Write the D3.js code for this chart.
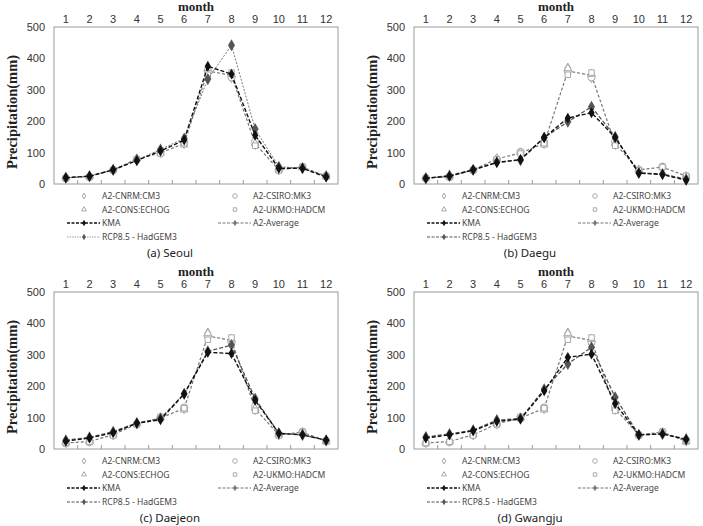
<!DOCTYPE html>
<html>
<head>
<meta charset="utf-8">
<script src="https://cdn.jsdelivr.net/npm/d3@7/dist/d3.min.js"></script>
<style>
  body { margin: 0; background: #fff; }
  .tick text { font-family: "Liberation Sans", Arial, sans-serif; font-size: 11px; fill: #333; }
  .leg { font-family: "Noto Sans", sans-serif; font-size: 8.5px; fill: #444; }
  .cap { font-family: "Noto Sans", sans-serif; font-size: 11.5px; fill: #222; }
  .ttl { font-family: "Liberation Serif", "DejaVu Serif", serif; font-weight: bold; fill: #222; }
</style>
</head>
<body>
<div id="chart"></div>
<script>
// months and axis ticks
const months = [1, 2, 3, 4, 5, 6, 7, 8, 9, 10, 11, 12];
const yTicks = [0, 100, 200, 300, 400, 500];

// A2 scenario models (mm)
const cnrm  = [20, 24, 44, 80, 98, 128, 370, 338, 125, 44, 52, 24];
const csiro = [18, 22, 45, 78, 102, 132, 360, 340, 135, 45, 55, 25];
const echog = [20, 25, 46, 82, 100, 125, 368, 350, 130, 46, 53, 23];
const ukmo  = [19, 23, 43, 79, 97, 130, 348, 355, 122, 43, 54, 26];
const a2avg = [19, 24, 45, 80, 99, 129, 360, 346, 128, 45, 54, 25];

// observed (KMA) and RCP8.5 per station
const seoulKMA   = [20, 25, 45, 75, 105, 140, 375, 350, 155, 50, 50, 22];
const seoulRCP   = [20, 25, 45, 76, 110, 145, 334, 442, 175, 55, 50, 25];
const daeguKMA   = [18, 25, 45, 68, 78, 148, 210, 227, 148, 35, 30, 12];
const daeguRCP   = [18, 27, 45, 70, 76, 148, 198, 246, 150, 35, 32, 15];
const daejeonKMA = [25, 35, 52, 82, 93, 175, 308, 304, 155, 50, 45, 28];
const daejeonRCP = [28, 37, 55, 83, 97, 176, 311, 331, 160, 50, 45, 28];
const gwangjuKMA = [35, 45, 58, 88, 95, 185, 292, 302, 145, 45, 48, 30];
const gwangjuRCP = [38, 48, 60, 92, 97, 190, 271, 324, 165, 45, 48, 32];

const captions = ["(a) Seoul", "(b) Daegu", "(c) Daejeon", "(d) Gwangju"];

const svg = d3.select("#chart").append("svg")
    .attr("width", 703)
    .attr("height", 526);

const models = [
    { name: "A2-CNRM:CM3", data: cnrm, sym: d3.symbolDiamond, size: 26 },
    { name: "A2-CSIRO:MK3", data: csiro, sym: d3.symbolCircle, size: 42 },
    { name: "A2-CONS:ECHOG", data: echog, sym: d3.symbolTriangle, size: 26 },
    { name: "A2-UKMO:HADCM", data: ukmo, sym: d3.symbolSquare, size: 30 }
];

function drawPanel(ox, oy, caption, kma, rcp, rcpDotted) {
    let g = svg.append("g").attr("transform", "translate(" + ox + "," + oy + ")");

    let x = d3.scaleBand().domain(months).range([54, 338]);
    let y = d3.scaleLinear().domain([0, 500]).range([184, 27]);
    let cx = d => x(d) + x.bandwidth() / 2;

    // frame
    g.append("rect")
        .attr("x", 54).attr("y", 27)
        .attr("width", 284).attr("height", 157)
        .attr("fill", "none")
        .attr("stroke", "#9a9a9a");

    // small ticks on the bottom edge between months
    g.selectAll(".btick")
        .data(months.slice(1))
        .enter().append("line")
        .attr("x1", d => x(d)).attr("x2", d => x(d))
        .attr("y1", 184).attr("y2", 180)
        .attr("stroke", "#9a9a9a");

    // month axis on top
    let top = g.append("g")
        .attr("transform", "translate(0,27)")
        .call(d3.axisTop(x).tickSize(0).tickPadding(4));
    top.select(".domain").remove();

    let left = g.append("g")
        .attr("transform", "translate(54,0)")
        .call(d3.axisLeft(y).tickValues(yTicks).tickSize(0).tickPadding(9));
    left.select(".domain").remove();

    g.append("text").attr("class", "ttl")
        .attr("x", 196).attr("y", 11)
        .attr("text-anchor", "middle")
        .attr("font-size", "13px")
        .text("month");

    g.append("text").attr("class", "ttl")
        .attr("transform", "translate(17,112) rotate(-90)")
        .attr("text-anchor", "middle")
        .attr("font-size", "14.5px")
        .text("Precipitation(mm)");

    let line = d3.line()
        .x((d, i) => cx(months[i]))
        .y(d => y(d));

    // A2 average
    g.append("path")
        .attr("d", line(a2avg))
        .attr("fill", "none")
        .attr("stroke", "#777")
        .attr("stroke-width", 1.2)
        .attr("stroke-dasharray", "3,2");

    // model points
    models.forEach(m => {
        g.selectAll(null)
            .data(m.data)
            .enter().append("path")
            .attr("d", d3.symbol().type(m.sym).size(m.size))
            .attr("transform", (d, i) => "translate(" + cx(months[i]) + "," + y(d) + ")")
            .attr("fill", "#fff")
            .attr("stroke", "#a8a8a8")
            .attr("stroke-width", 1);
    });

    // RCP8.5
    g.append("path")
        .attr("d", line(rcp))
        .attr("fill", "none")
        .attr("stroke", rcpDotted ? "#777" : "#555")
        .attr("stroke-width", rcpDotted ? 1 : 1.3)
        .attr("stroke-dasharray", rcpDotted ? "2,1.5" : "4,2");
    g.selectAll(null)
        .data(rcp)
        .enter().append("path")
        .attr("d", d3.symbol().type(d3.symbolDiamond).size(42))
        .attr("transform", (d, i) => "translate(" + cx(months[i]) + "," + y(d) + ")")
        .attr("fill", "#555");

    // KMA
    g.append("path")
        .attr("d", line(kma))
        .attr("fill", "none")
        .attr("stroke", "#111")
        .attr("stroke-width", 1.4)
        .attr("stroke-dasharray", "4,2");
    g.selectAll(null)
        .data(kma)
        .enter().append("path")
        .attr("d", d3.symbol().type(d3.symbolDiamond).size(34))
        .attr("transform", (d, i) => "translate(" + cx(months[i]) + "," + y(d) + ")")
        .attr("fill", "#111");

    // legend
    let rows = [196, 209.5, 223, 237];
    let c1 = 84, c2 = 235;
    models.forEach((m, i) => {
        let lx = i % 2 === 0 ? c1 : c2;
        let ly = rows[Math.floor(i / 2)];
        g.append("path")
            .attr("d", d3.symbol().type(m.sym).size(m.size * 0.4))
            .attr("transform", "translate(" + lx + "," + ly + ")")
            .attr("fill", "#fff")
            .attr("stroke", "#aaa");
        g.append("text").attr("class", "leg")
            .attr("x", lx + 18).attr("y", ly + 3)
            .text(m.name);
    });

    let lineItems = [
        { name: "KMA", x: c1, y: rows[2], stroke: "#111", dash: "3,1.5", w: 1.3, fill: "#111" },
        { name: "A2-Average", x: c2, y: rows[2], stroke: "#777", dash: "3,1.5", w: 1, fill: "#777" },
        { name: "RCP8.5 - HadGEM3", x: c1, y: rows[3],
          stroke: rcpDotted ? "#888" : "#555", dash: rcpDotted ? "1.5,1" : "3,1.5",
          w: rcpDotted ? 0.8 : 1.1, fill: "#555" }
    ];
    lineItems.forEach(it => {
        g.append("line")
            .attr("x1", it.x - 17).attr("x2", it.x + 16)
            .attr("y1", it.y).attr("y2", it.y)
            .attr("stroke", it.stroke)
            .attr("stroke-width", it.w)
            .attr("stroke-dasharray", it.dash);
        g.append("path")
            .attr("d", d3.symbol().type(d3.symbolDiamond).size(12))
            .attr("transform", "translate(" + it.x + "," + it.y + ")")
            .attr("fill", it.fill);
        g.append("text").attr("class", "leg")
            .attr("x", it.x + 18).attr("y", it.y + 3)
            .text(it.name);
    });

    g.append("text").attr("class", "cap")
        .attr("x", 170).attr("y", 257)
        .attr("text-anchor", "middle")
        .text(caption);
}

drawPanel(0, 0, captions[0], seoulKMA, seoulRCP, true);
drawPanel(360, 0, captions[1], daeguKMA, daeguRCP, false);
drawPanel(0, 265, captions[2], daejeonKMA, daejeonRCP, false);
drawPanel(360, 265, captions[3], gwangjuKMA, gwangjuRCP, false);
</script>
</body>
</html>
